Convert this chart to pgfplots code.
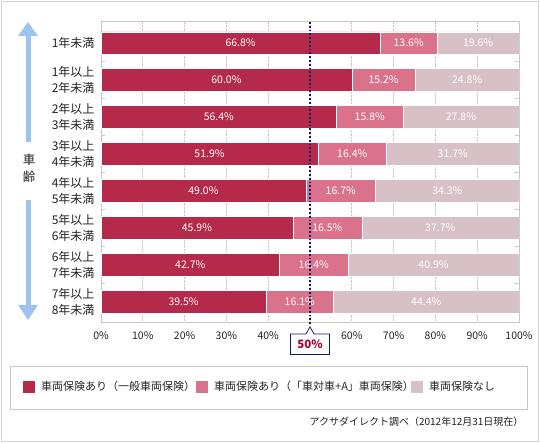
\documentclass[border=0pt]{standalone}
\usepackage{pgfplots}
\pgfplotsset{compat=1.18}
\usepackage{fontspec}
\setmainfont{Noto Sans CJK JP}
\definecolor{c1}{HTML}{B5294A}
\definecolor{c2}{HTML}{D9728A}
\definecolor{c3}{HTML}{D8C1C6}
\definecolor{navy}{HTML}{10186A}
\definecolor{arrowblue}{HTML}{9CC4EE}
\definecolor{txt}{HTML}{222222}
\definecolor{frame}{HTML}{C8C8C8}
\definecolor{callred}{HTML}{A3052E}
\tikzset{vl/.style={text=white, font=\fontsize{10.5}{12}\selectfont}}
\pgfplotsset{geom/.style={at={(101pt,120pt)}, anchor=south west,
  width=418pt, height=301pt, scale only axis,
  xmin=0, xmax=100, ymin=0.43, ymax=8.57, y dir=reverse}}
\begin{document}
\begin{tikzpicture}[x=1pt,y=1pt]
\useasboundingbox (0,0) rectangle (540,443);
\draw[frame!80, line width=1pt] (1.5,1.5) rectangle (538.5,441.5);
% left arrow
\fill[arrowblue] (25.5,301) rectangle (30.5,408);
\fill[arrowblue] (18,407) -- (38,407) -- (28,421) -- cycle;
\fill[arrowblue] (25.5,137) rectangle (30.5,243);
\fill[arrowblue] (18,138) -- (38,138) -- (28,123) -- cycle;
\node[font=\fontsize{12.5}{14}\selectfont, text=txt] at (29,283) {車};
\node[font=\fontsize{12.5}{14}\selectfont, text=txt] at (29,266) {齢};
% legend frame
\draw[frame, line width=1pt] (10.5,33.5) rectangle (527.5,76.5);
\begin{axis}[
  geom,
  xbar stacked, bar width=22.5pt,
  ytick={1,...,8},
  yticklabels={{1年未満},{1年以上\\2年未満},{2年以上\\3年未満},{3年以上\\4年未満},{4年以上\\5年未満},{5年以上\\6年未満},{6年以上\\7年未満},{7年以上\\8年未満}},
  yticklabel style={align=center, font=\fontsize{12}{16}\selectfont, text=txt, xshift=-3pt},
  minor ytick={1.5,2.5,...,7.5},
  minor tick length=4pt,
  major tick length=0pt,
  tick align=inside,
  every minor tick/.append style={draw=frame, line width=0.8pt},
  xtick={0,10,...,100},
  xticklabels={0\%,10\%,20\%,30\%,40\%,{},60\%,70\%,80\%,90\%,100\%},
  xticklabel style={font=\fontsize{10.5}{12}\selectfont, text=txt, yshift=-5pt},
  xmajorgrids, major grid style={densely dotted, draw=frame, line width=0.8pt},
  axis line style={draw=frame, line width=1pt},
  legend image code/.code={\fill[#1, draw=none] (0pt,-6pt) rectangle (12pt,6pt);},
  legend columns=3,
  legend style={at={(axis description cs:-0.1866,-0.2126)}, anchor=west, draw=none, fill=none,
     inner sep=0pt, font=\fontsize{11}{13}\selectfont, text=txt,
     nodes={inner sep=0pt},
     /tikz/every odd column/.append style={column sep=6pt},
     /tikz/every even column/.append style={column sep=0pt}},
]
\addplot[fill=c1, draw=white, line width=0.6pt] coordinates {(66.8,1) (60.0,2) (56.4,3) (51.9,4) (49.0,5) (45.9,6) (42.7,7) (39.5,8)};
\addplot[fill=c2, draw=white, line width=0.6pt] coordinates {(13.6,1) (15.2,2) (15.8,3) (16.4,4) (16.7,5) (16.5,6) (16.4,7) (16.1,8)};
\addplot[fill=c3, draw=white, line width=0.6pt] coordinates {(19.6,1) (24.8,2) (27.8,3) (31.7,4) (34.3,5) (37.7,6) (40.9,7) (44.4,8)};
\addlegendentry{\makebox[155pt][l]{車両保険あり（一般車両保険）}}
\addlegendentry{\makebox[197pt][l]{車両保険あり（「車対車+A」車両保険）}}
\addlegendentry{車両保険なし}
\end{axis}
\begin{axis}[geom, hide axis, clip=false]
\node[vl] at (axis cs:33.4,1) {66.8\%};  \node[vl] at (axis cs:73.6,1) {13.6\%};  \node[vl] at (axis cs:90.2,1) {19.6\%};
\node[vl] at (axis cs:30.0,2) {60.0\%};  \node[vl] at (axis cs:67.6,2) {15.2\%};  \node[vl] at (axis cs:87.6,2) {24.8\%};
\node[vl] at (axis cs:28.2,3) {56.4\%};  \node[vl] at (axis cs:64.3,3) {15.8\%};  \node[vl] at (axis cs:86.1,3) {27.8\%};
\node[vl] at (axis cs:25.95,4) {51.9\%}; \node[vl] at (axis cs:60.1,4) {16.4\%};  \node[vl] at (axis cs:84.15,4) {31.7\%};
\node[vl] at (axis cs:24.5,5) {49.0\%};  \node[vl] at (axis cs:57.35,5) {16.7\%}; \node[vl] at (axis cs:82.85,5) {34.3\%};
\node[vl] at (axis cs:22.95,6) {45.9\%}; \node[vl] at (axis cs:54.15,6) {16.5\%}; \node[vl] at (axis cs:81.15,6) {37.7\%};
\node[vl] at (axis cs:21.35,7) {42.7\%}; \node[vl] at (axis cs:50.9,7) {16.4\%};  \node[vl] at (axis cs:79.55,7) {40.9\%};
\node[vl] at (axis cs:19.75,8) {39.5\%}; \node[vl] at (axis cs:47.55,8) {16.1\%}; \node[vl] at (axis cs:77.8,8) {44.4\%};
\draw[navy, line width=1.8pt, dash pattern=on 1.8pt off 2pt] (axis cs:50,0.43) -- ([yshift=-2pt]axis cs:50,8.57);
\end{axis}
% 50% callout
\draw[navy, fill=white, line width=0.8pt] (290.5,88.5) -- (290.5,109) -- (306,109) -- (310,116) -- (314,109) -- (329.5,109) -- (329.5,88.5) -- cycle;
\node[text=callred, font=\fontsize{11.5}{12}\selectfont\bfseries] at (310,98.5) {50\%};
% source
\node[anchor=east, text=txt, font=\fontsize{10}{11}\selectfont] at (527,21) {アクサダイレクト調べ（2012年12月31日現在）};
\end{tikzpicture}
\end{document}
